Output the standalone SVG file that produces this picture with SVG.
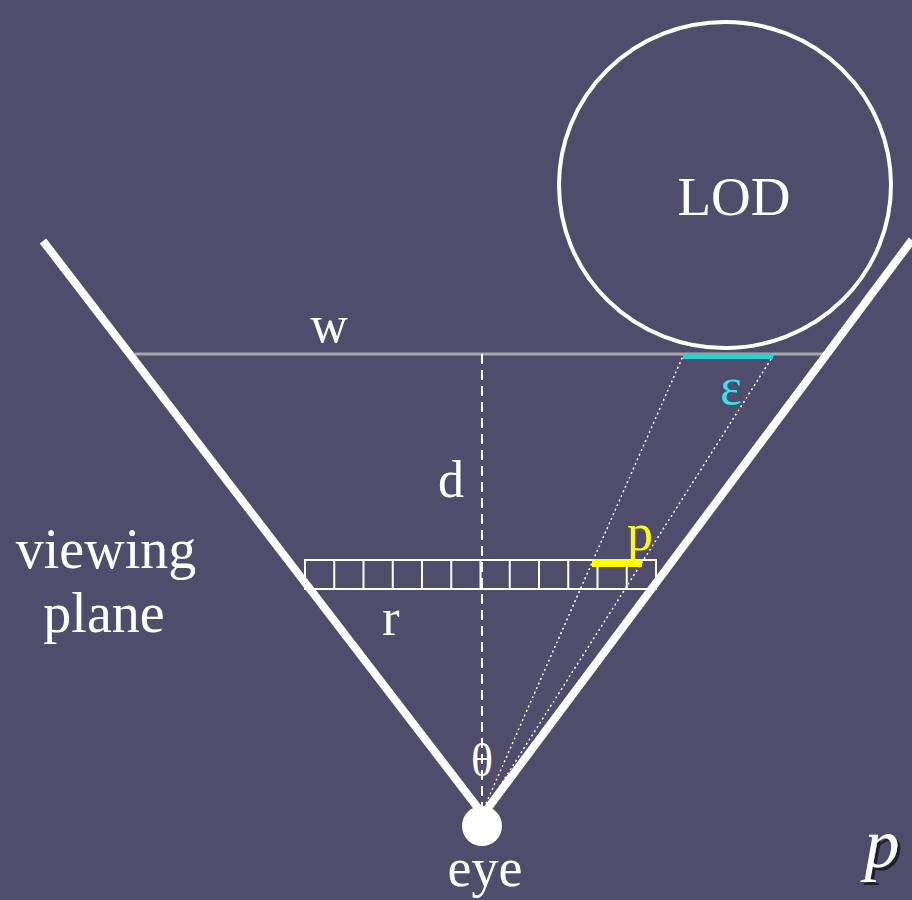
<svg xmlns="http://www.w3.org/2000/svg" width="912" height="900" viewBox="0 0 912 900">
<defs>
<filter id="shadow" x="-30%" y="-30%" width="160%" height="160%">
<feDropShadow dx="3" dy="3" stdDeviation="0.6" flood-color="#000000" flood-opacity="0.6"/>
</filter>
</defs>
<style>
.t{font-family:"Liberation Serif","Times New Roman",serif;fill:#ffffff;}
.cell{fill:none;stroke:#ffffff;stroke-width:2;}
</style>
<rect width="912" height="900" fill="#4f4d6b"/>
<g id="connectors">
<line x1="135" y1="354" x2="827" y2="354" stroke="#a8a8a8" stroke-width="3"/>
<line x1="482" y1="354" x2="482" y2="808" stroke="#ffffff" stroke-width="2" stroke-dasharray="10,6"/>
<line x1="484" y1="808" x2="683" y2="356" stroke="#ffffff" stroke-width="1.5" stroke-dasharray="2,3"/>
<line x1="486" y1="808" x2="773" y2="356" stroke="#ffffff" stroke-width="1.5" stroke-dasharray="2,3"/>
<line x1="43" y1="241" x2="478" y2="808" stroke="#ffffff" stroke-width="8"/>
<line x1="912" y1="240" x2="488" y2="808" stroke="#ffffff" stroke-width="8"/>
</g>
<g id="lod">
<ellipse cx="725" cy="185" rx="166" ry="163" fill="none" stroke="#ffffff" stroke-width="4"/>
<text class="t" x="734" y="215" font-size="55" text-anchor="middle">LOD</text>
</g>
<g id="epsilon">
<line x1="683" y1="356" x2="773" y2="356" stroke="#33cccc" stroke-width="6"/>
<text x="731" y="404" font-family="'Liberation Serif',serif" font-size="52" fill="#33e4ec" text-anchor="middle">ε</text>
</g>
<g id="viewing-plane-grid">
<rect class="cell" x="305" y="560" width="351" height="29"/>
<path class="cell" d="M334.25 560V589M363.5 560V589M392.75 560V589M422 560V589M451.25 560V589M480.5 560V589M509.75 560V589M539 560V589M568.25 560V589M597.5 560V589M626.75 560V589"/>
<rect x="592" y="559" width="50" height="8" fill="#ffff00"/>
<text x="640" y="550" font-family="'Liberation Serif',serif" font-size="52" fill="#ffff00" text-anchor="middle">p</text>
</g>
<g id="eye">
<circle cx="482" cy="826" r="20" fill="#ffffff"/>
<text class="t" x="485" y="886" font-size="54" text-anchor="middle">eye</text>
</g>
<g id="labels">
<text class="t" x="329" y="342" font-size="52" text-anchor="middle">w</text>
<text class="t" x="451" y="497" font-size="52" text-anchor="middle">d</text>
<text class="t" x="106" y="568" font-size="56" text-anchor="middle">viewing</text>
<text class="t" x="104" y="632" font-size="56" text-anchor="middle">plane</text>
<text class="t" x="391" y="635" font-size="52" text-anchor="middle">r</text>
<text class="t" x="482" y="776" font-size="46" text-anchor="middle">θ</text>
<text class="t" x="882" y="867" font-style="italic" font-size="70" text-anchor="middle" filter="url(#shadow)">p</text>
</g>
</svg>
